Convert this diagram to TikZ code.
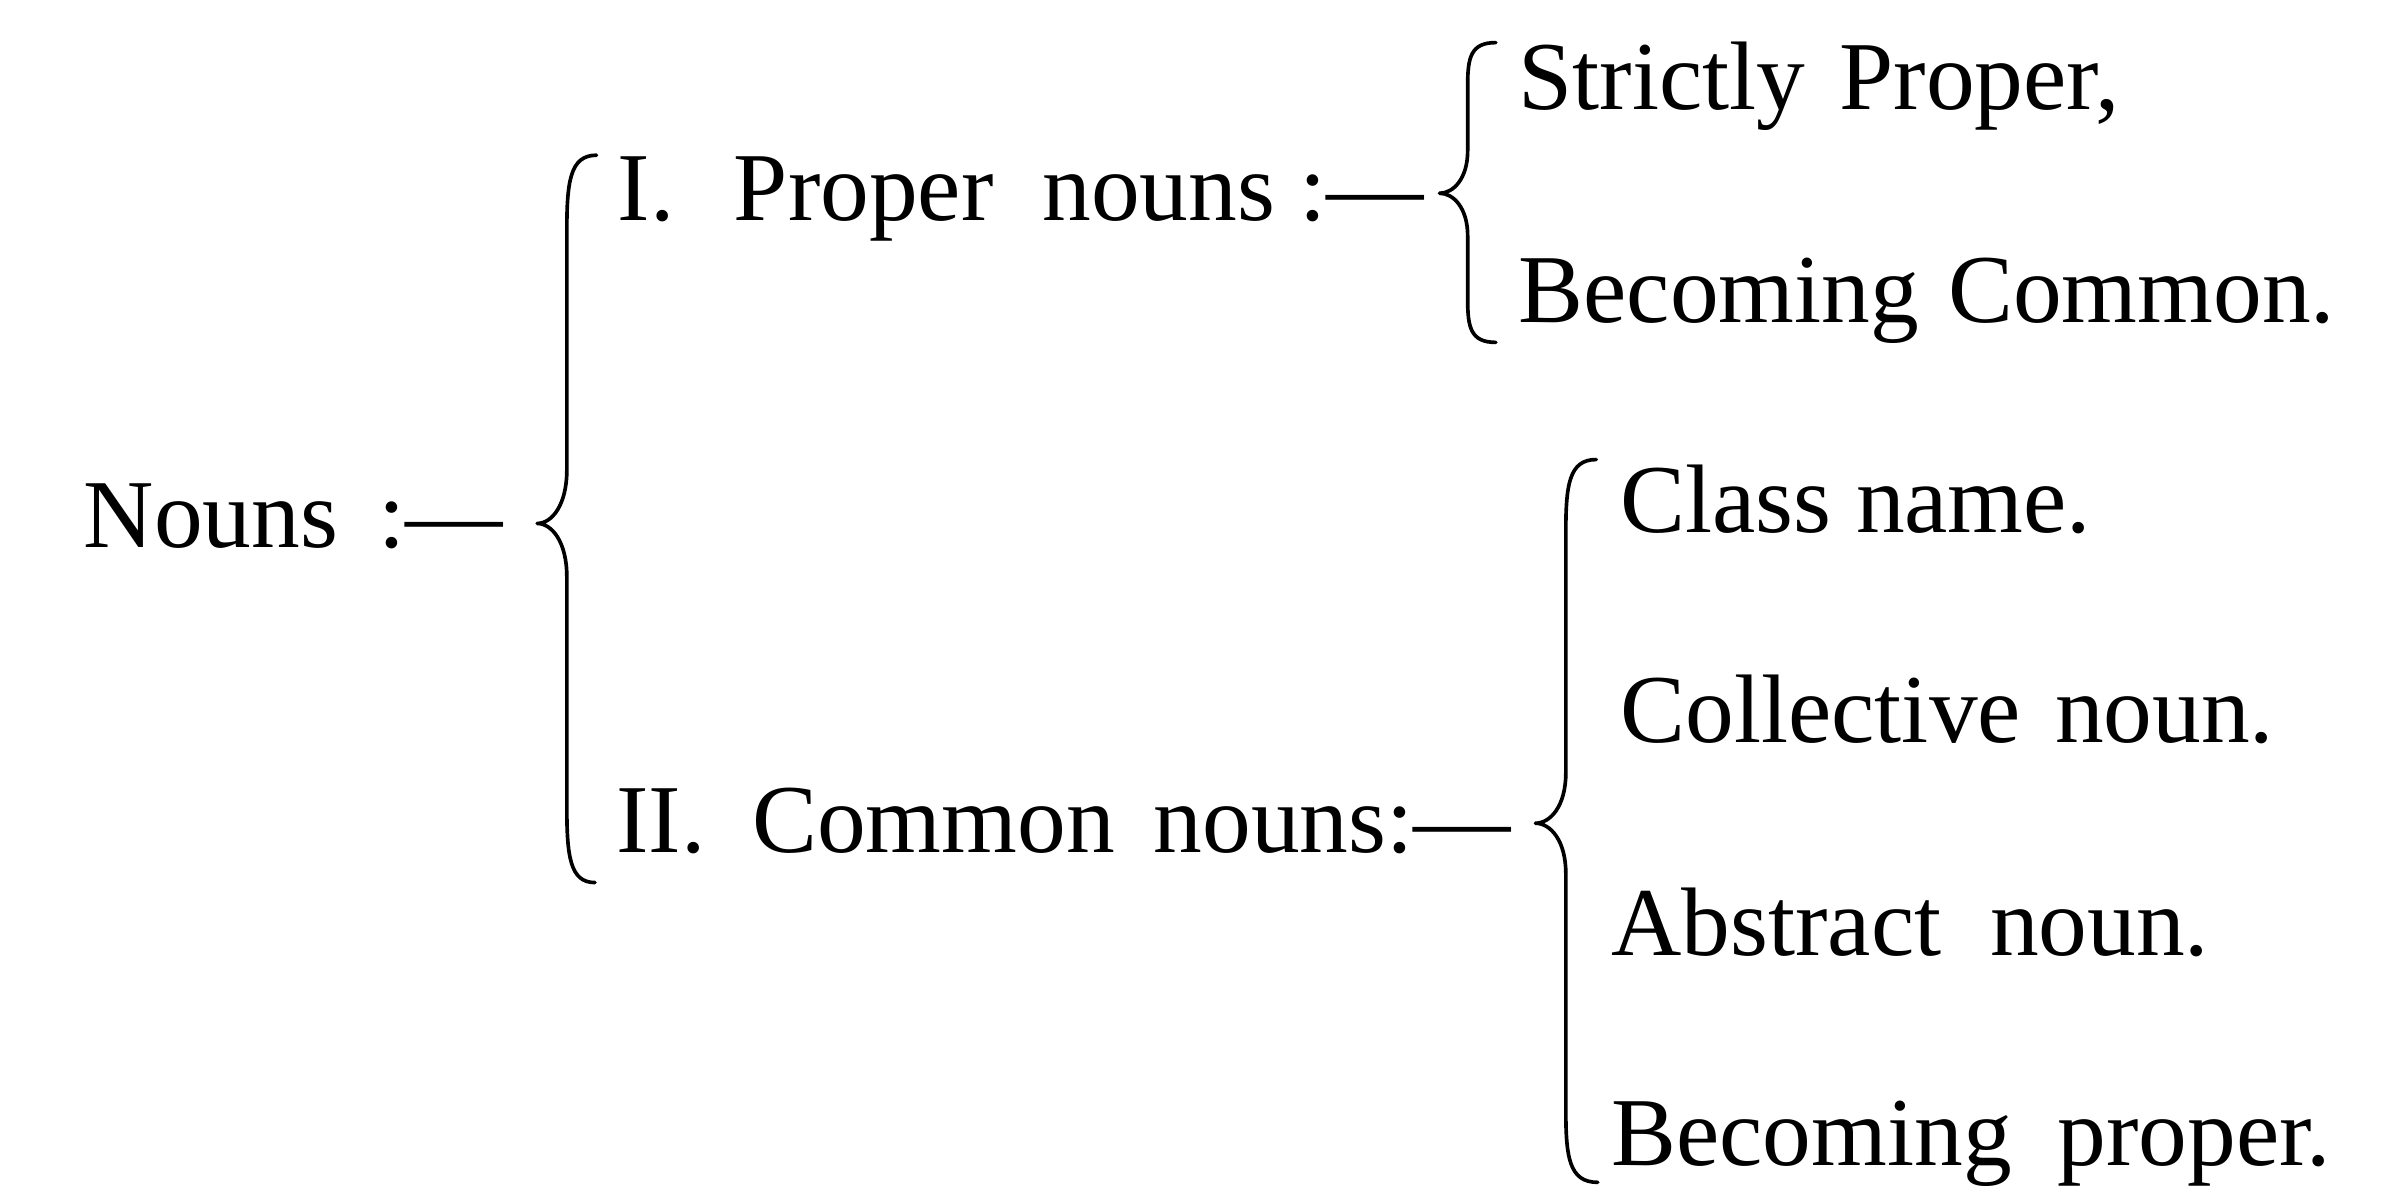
\documentclass[tikz,border=0pt]{standalone}
\usepackage{fontspec}
\setmainfont{Liberation Serif}
\usetikzlibrary{calc}

% inter-word gap of the printed table, in em of the current font
\newcommand\wgap[1]{\hspace{#1em}}

\tikzset{
  entry/.style={anchor=base west, inner sep=0pt, outer sep=0pt,
                font=\fontsize{64}{70}\selectfont, text=black},
  bracestroke/.style={line width=2.4pt, line cap=round, line join=round, draw=black},
}

% a tall printer's brace: #1 top end, #2 tip, #3 bottom end,
% #4 length of the end curls, #5 length of the curves into the tip
\newcommand\oldbrace[5]{%
  \draw[bracestroke] let \p1=(#1), \p2=(#2), \p3=(#3), \n1={(\x1+\x2)/2} in
    (\p1) .. controls ({\n1+2},\y1) and (\n1,{\y1-0.35*#4}) .. (\n1,{\y1-#4})
    -- (\n1,{\y2+#5})
    .. controls (\n1,{\y2+0.35*#5}) and ({\x2+0.25*(\x1-\x2)},\y2) .. (\p2)
    .. controls ({\x2+0.25*(\x1-\x2)},\y2) and (\n1,{\y2-0.35*#5}) .. (\n1,{\y2-#5})
    -- (\n1,{\y3+#4})
    .. controls (\n1,{\y3+0.35*#4}) and ({\n1+2},\y3) .. (\p3);
}

\begin{document}
\begin{tikzpicture}[x=1pt, y=1pt]
  \fill[white] (0,0) rectangle (1568,-781);
  \useasboundingbox (0,0) rectangle (1568,-781);

  % headings and entries
  \node[entry] (nouns)  at (55,-360)   {Nouns\wgap{0.42}:—};
  \node[entry] (proper) at (406,-145)  {I.\wgap{0.61}Proper\wgap{0.5}nouns :—};
  \node[entry] (common) at (405,-560)  {II.\wgap{0.48}Common\wgap{0.4}nouns:—};
  \node[entry] (strict) at (998,-72)   {Strictly\wgap{0.35}Proper,};
  \node[entry] (becomC) at (998,-212)  {Becoming\wgap{0.3}Common.};
  \node[entry] (cls)    at (1065,-350) {Class name.};
  \node[entry] (coll)   at (1065,-488) {Collective\wgap{0.35}noun.};
  \node[entry] (abst)   at (1059,-628) {Abstract\wgap{0.5}noun.};
  \node[entry] (becomP) at (1059,-766) {Becoming\wgap{0.47}proper.};

  % brace end points and tips
  \coordinate (b1t) at (392,-102);
  \coordinate (b1m) at (353,-344);
  \coordinate (b1b) at (391,-580);
  \coordinate (b2t) at (983,-28);
  \coordinate (b2m) at (946,-127);
  \coordinate (b2b) at (983,-225);
  \coordinate (b3t) at (1049,-302);
  \coordinate (b3m) at (1009,-541);
  \coordinate (b3b) at (1050,-777);

  \oldbrace{b1t}{b1m}{b1b}{50}{35}
  \oldbrace{b2t}{b2m}{b2b}{28}{28}
  \oldbrace{b3t}{b3m}{b3b}{48}{33}
\end{tikzpicture}
\end{document}
